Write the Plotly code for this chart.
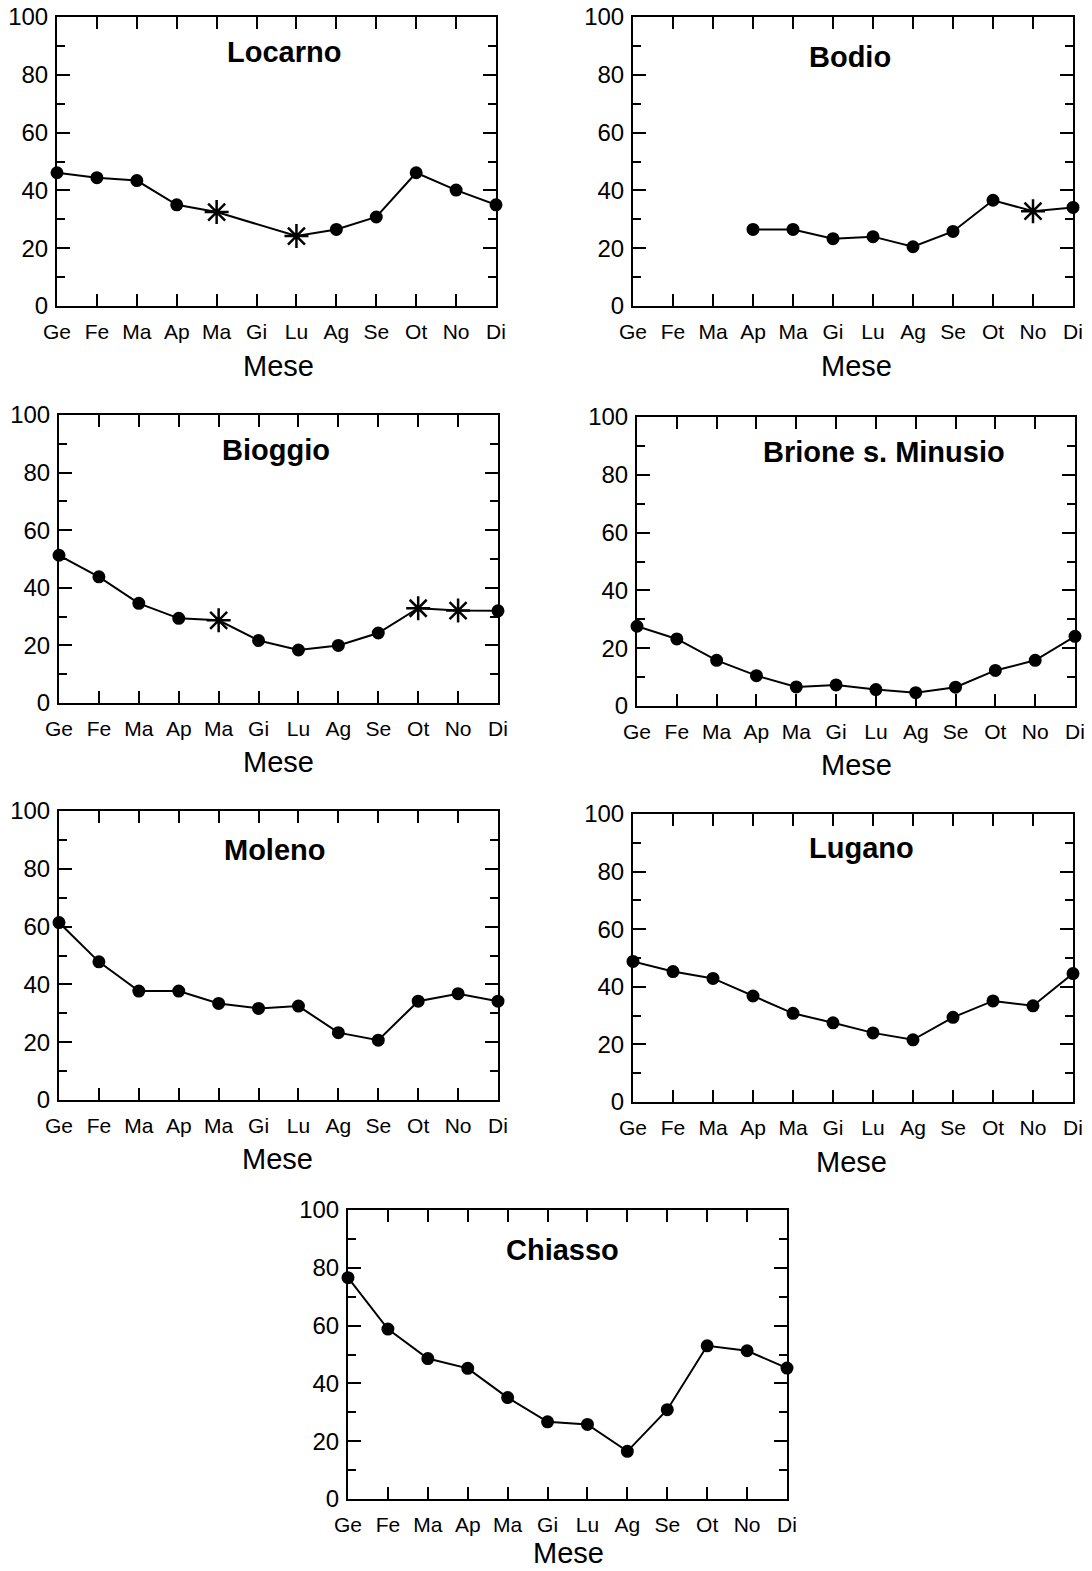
import plotly.graph_objects as go

W, H = 1092, 1571

months = ["Ge", "Fe", "Ma", "Ap", "Ma", "Gi", "Lu", "Ag", "Se", "Ot", "No", "Di"]

stations = ["Locarno", "Bodio", "Bioggio", "Brione s. Minusio", "Moleno", "Lugano", "Chiasso"]

locarno = [46.1, 44.4, 43.4, 35.0, 32.5, None, 24.2, 26.5, 30.8, 46.1, 40.1, 35.0]
bodio = [None, None, None, 26.5, 26.5, 23.3, 24.0, 20.5, 25.8, 36.6, 32.8, 34.1]
bioggio = [51.3, 43.8, 34.6, 29.4, 28.7, 21.7, 18.4, 20.0, 24.3, 32.9, 32.1, 32.0]
brione = [27.6, 23.2, 15.8, 10.5, 6.6, 7.3, 5.7, 4.6, 6.5, 12.3, 15.8, 24.1]
moleno = [61.4, 47.8, 37.7, 37.7, 33.4, 31.7, 32.5, 23.3, 20.7, 34.2, 36.8, 34.2]
lugano = [48.8, 45.3, 42.9, 36.8, 30.8, 27.5, 24.0, 21.6, 29.4, 35.1, 33.4, 44.6]
chiasso = [76.6, 58.8, 48.6, 45.2, 35.1, 26.7, 25.8, 16.5, 30.9, 53.0, 51.3, 45.3]

# months (index) marked with an asterisk in the original
flagged_locarno = [4, 6]
flagged_bodio = [10]
flagged_bioggio = [4, 9, 10]
flagged_brione = []
flagged_moleno = []
flagged_lugano = []
flagged_chiasso = []

series = [locarno, bodio, bioggio, brione, moleno, lugano, chiasso]
flags = [flagged_locarno, flagged_bodio, flagged_bioggio, flagged_brione,
         flagged_moleno, flagged_lugano, flagged_chiasso]

y_ticks = [0, 20, 40, 60, 80, 100]

# panel boxes in pixels: left, right, top, bottom
boxes = [
    (57, 496, 17, 306),
    (633, 1073, 17, 306),
    (59, 498, 415, 703),
    (637, 1075, 417, 706),
    (59, 498, 811, 1100),
    (633, 1073, 814, 1102),
    (348, 787, 1210, 1499),
]
title_pos = [(284, 52), (850, 57), (276, 450), (884, 452), (275, 850), (861, 848), (562, 1250)]
mese_pos = [(278, 366), (856, 366), (278, 762), (856, 765), (277, 1159), (851, 1162), (568, 1553)]

FONT = "Liberation Sans, Arial, sans-serif"

fig = go.Figure()
layout = dict(
    template="none",
    width=W, height=H, margin=dict(l=0, r=0, t=0, b=0, autoexpand=False),
    paper_bgcolor="white", plot_bgcolor="white", showlegend=False,
    font=dict(family=FONT, color="black"),
)
annotations = []
x_idx = list(range(len(months)))

for i, (name, vals, fl) in enumerate(zip(stations, series, flags)):
    n = i + 1
    xa = "x" if n == 1 else f"x{n}"
    ya = "y" if n == 1 else f"y{n}"
    symbols = ["asterisk-open" if k in fl else "circle" for k in x_idx]
    sizes = [20 if k in fl else 10.5 for k in x_idx]
    fig.add_trace(go.Scatter(
        x=x_idx, y=vals, mode="lines+markers", connectgaps=True,
        line=dict(color="black", width=2),
        marker=dict(symbol=symbols, size=sizes, color="black", opacity=1,
                    line=dict(color="black", width=2.5)),
        cliponaxis=False, xaxis=xa, yaxis=ya, name=name,
    ))
    L, R, T, B = boxes[i]
    xkey = "xaxis" if n == 1 else f"xaxis{n}"
    ykey = "yaxis" if n == 1 else f"yaxis{n}"
    layout[xkey] = dict(
        domain=[L / W, R / W], anchor=ya, range=[0, 11], automargin=False,
        tickmode="array", tickvals=x_idx, ticktext=months,
        ticks="inside", ticklen=12, tickwidth=2, tickcolor="black",
        showline=True, linewidth=2, linecolor="black", mirror="allticks",
        showgrid=False, zeroline=False, fixedrange=True,
        tickfont=dict(size=21, family=FONT, color="black"),
        ticklabelstandoff=6,
    )
    layout[ykey] = dict(
        domain=[1 - B / H, 1 - T / H], anchor=xa, range=[0, 100], automargin=False,
        tickmode="array", tickvals=y_ticks,
        ticks="inside", ticklen=13, tickwidth=2, tickcolor="black",
        minor=dict(ticks="inside", ticklen=8, tickwidth=2, tickcolor="black", dtick=10, showgrid=False),
        showline=True, linewidth=2, linecolor="black", mirror="allticks",
        showgrid=False, zeroline=False, fixedrange=True,
        tickfont=dict(size=24, family=FONT, color="black"),
        ticklabelstandoff=2,
    )
    tx, ty = title_pos[i]
    annotations.append(dict(
        text=f"<b>{name}</b>", x=tx / W, y=1 - ty / H, xref="paper", yref="paper",
        showarrow=False, xanchor="center", yanchor="middle",
        font=dict(size=29, family=FONT, color="black"),
    ))
    mx, my = mese_pos[i]
    annotations.append(dict(
        text="Mese", x=mx / W, y=1 - my / H, xref="paper", yref="paper",
        showarrow=False, xanchor="center", yanchor="middle",
        font=dict(size=29, family=FONT, color="black"),
    ))

layout["annotations"] = annotations
fig.update_layout(**layout)
fig.write_html("out.html")
